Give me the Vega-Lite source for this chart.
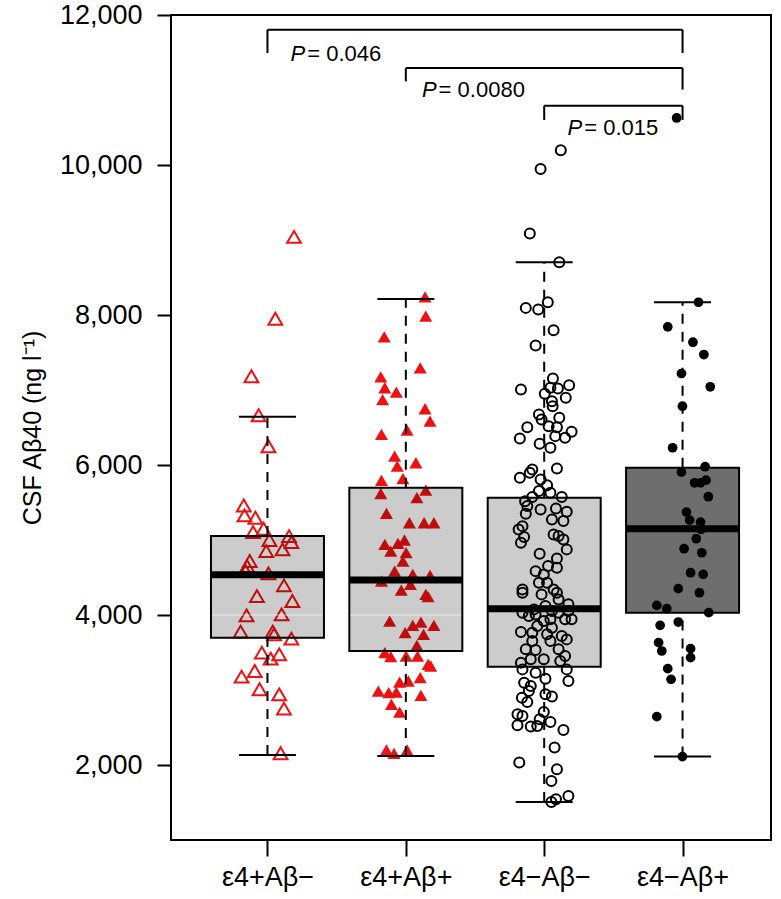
{
  "$schema": "https://vega.github.io/schema/vega-lite/v6.json",
  "width": 600,
  "height": 825,
  "autosize": {"type": "none"},
  "padding": {"left": 171, "top": 15, "right": 10, "bottom": 59},
  "background": "white",
  "config": {
    "view": {"stroke": "black", "strokeWidth": 2},
    "font": "Liberation Sans",
    "axis": {"grid": false, "domain": false, "tickColor": "black", "tickWidth": 2, "labelColor": "black", "titleColor": "black", "labelFont": "Liberation Sans", "titleFont": "Liberation Sans"},
    "axisY": {"labelFontSize": 27, "tickSize": 14, "labelPadding": 15, "titleFontSize": 25, "titleFontWeight": "normal", "titlePadding": 14},
    "axisX": {"labelFontSize": 27, "tickSize": 16, "labelPadding": 8}
  },
  "datasets": {
    "pts": [
      {"g":1,"x":1.192,"v":9042},{"g":1,"x":1.057,"v":7949},{"g":1,"x":0.884,"v":7184},{"g":1,"x":0.936,"v":6664},{"g":1,"x":1.007,"v":6251},
      {"g":1,"x":0.829,"v":5461},{"g":1,"x":0.834,"v":5328},{"g":1,"x":0.913,"v":5297},{"g":1,"x":0.972,"v":5150},{"g":1,"x":0.896,"v":5105},
      {"g":1,"x":1.014,"v":4999},{"g":1,"x":1.156,"v":5052},{"g":1,"x":1.173,"v":4972},{"g":1,"x":1.109,"v":4875},{"g":1,"x":0.991,"v":4852},
      {"g":1,"x":0.872,"v":4719},{"g":1,"x":0.853,"v":4652},{"g":1,"x":1.007,"v":4555},{"g":1,"x":0.842,"v":4585},{"g":1,"x":1.119,"v":4395},
      {"g":1,"x":0.924,"v":4252},{"g":1,"x":1.180,"v":4186},{"g":1,"x":0.849,"v":3995},{"g":1,"x":1.102,"v":4008},{"g":1,"x":0.806,"v":3778},
      {"g":1,"x":1.038,"v":3778},{"g":1,"x":1.048,"v":3742},{"g":1,"x":1.173,"v":3685},{"g":1,"x":0.959,"v":3498},{"g":1,"x":1.023,"v":3418},
      {"g":1,"x":1.085,"v":3475},{"g":1,"x":0.908,"v":3253},{"g":1,"x":0.813,"v":3178},{"g":1,"x":0.943,"v":3009},{"g":1,"x":1.085,"v":2942},
      {"g":1,"x":1.119,"v":2752},{"g":1,"x":1.095,"v":2156},
      {"g":2,"x":2.139,"v":8242},{"g":2,"x":2.144,"v":7984},{"g":2,"x":1.844,"v":7709},{"g":2,"x":2.104,"v":7296},{"g":2,"x":1.819,"v":7176},
      {"g":2,"x":1.848,"v":7030},{"g":2,"x":1.931,"v":6971},{"g":2,"x":1.832,"v":6873},{"g":2,"x":2.139,"v":6750},{"g":2,"x":2.175,"v":6584},
      {"g":2,"x":1.824,"v":6407},{"g":2,"x":2.009,"v":6464},{"g":2,"x":1.919,"v":6118},{"g":2,"x":1.938,"v":5985},{"g":2,"x":2.073,"v":6030},
      {"g":2,"x":1.979,"v":5817},{"g":2,"x":1.824,"v":5794},{"g":2,"x":2.144,"v":5665},{"g":2,"x":1.819,"v":5620},{"g":2,"x":2.080,"v":5564},
      {"g":2,"x":1.860,"v":5354},{"g":2,"x":2.026,"v":5230},{"g":2,"x":2.132,"v":5230},{"g":2,"x":2.203,"v":5230},{"g":2,"x":1.848,"v":4941},
      {"g":2,"x":1.943,"v":4955},{"g":2,"x":1.990,"v":5000},{"g":2,"x":1.891,"v":4852},{"g":2,"x":2.002,"v":4831},{"g":2,"x":1.979,"v":4719},
      {"g":2,"x":1.919,"v":4585},{"g":2,"x":1.824,"v":4452},{"g":2,"x":2.050,"v":4541},{"g":2,"x":2.175,"v":4528},{"g":2,"x":2.033,"v":4408},
      {"g":2,"x":1.967,"v":4332},{"g":2,"x":2.144,"v":4275},{"g":2,"x":2.161,"v":4244},{"g":2,"x":1.883,"v":3919},{"g":2,"x":1.995,"v":3764},
      {"g":2,"x":2.050,"v":3862},{"g":2,"x":2.109,"v":3906},{"g":2,"x":2.128,"v":3742},{"g":2,"x":2.203,"v":3862},{"g":2,"x":2.080,"v":3595},
      {"g":2,"x":1.848,"v":3498},{"g":2,"x":1.891,"v":3445},{"g":2,"x":2.002,"v":3453},{"g":2,"x":2.085,"v":3453},{"g":2,"x":2.161,"v":3342},
      {"g":2,"x":2.180,"v":3320},{"g":2,"x":1.955,"v":3106},{"g":2,"x":2.018,"v":3120},{"g":2,"x":2.104,"v":3165},{"g":2,"x":1.801,"v":2986},
      {"g":2,"x":1.876,"v":2965},{"g":2,"x":1.931,"v":2973},{"g":2,"x":2.109,"v":2929},{"g":2,"x":1.896,"v":2809},{"g":2,"x":1.955,"v":2706},
      {"g":2,"x":1.860,"v":2200},{"g":2,"x":1.915,"v":2156},{"g":2,"x":2.009,"v":2200},
      {"g":3,"x":3.120,"v":10196},{"g":3,"x":2.974,"v":9948},{"g":3,"x":2.896,"v":9086},{"g":3,"x":3.109,"v":8703},{"g":3,"x":2.867,"v":8095},
      {"g":3,"x":2.957,"v":8073},{"g":3,"x":3.026,"v":8170},{"g":3,"x":3.068,"v":7797},{"g":3,"x":2.938,"v":7593},{"g":3,"x":3.063,"v":7153},
      {"g":3,"x":2.832,"v":7007},{"g":3,"x":3.045,"v":7029},{"g":3,"x":3.099,"v":7020},{"g":3,"x":3.180,"v":7064},{"g":3,"x":3.004,"v":6949},
      {"g":3,"x":3.156,"v":6896},{"g":3,"x":3.056,"v":6851},{"g":3,"x":3.061,"v":6784},{"g":3,"x":2.962,"v":6673},{"g":3,"x":2.981,"v":6607},
      {"g":3,"x":3.109,"v":6629},{"g":3,"x":2.878,"v":6504},{"g":3,"x":3.032,"v":6517},{"g":3,"x":3.092,"v":6504},{"g":3,"x":3.198,"v":6443},
      {"g":3,"x":2.824,"v":6354},{"g":3,"x":3.080,"v":6385},{"g":3,"x":3.151,"v":6363},{"g":3,"x":2.967,"v":6283},{"g":3,"x":3.045,"v":6230},
      {"g":3,"x":3.092,"v":5954},{"g":3,"x":2.914,"v":5941},{"g":3,"x":2.824,"v":5830},{"g":3,"x":2.896,"v":5897},{"g":3,"x":2.974,"v":5807},
      {"g":3,"x":3.021,"v":5731},{"g":3,"x":2.962,"v":5652},{"g":3,"x":2.914,"v":5572},{"g":3,"x":3.045,"v":5630},{"g":3,"x":3.127,"v":5572},
      {"g":3,"x":2.862,"v":5518},{"g":3,"x":2.878,"v":5452},{"g":3,"x":2.974,"v":5408},{"g":3,"x":3.085,"v":5421},{"g":3,"x":3.163,"v":5377},
      {"g":3,"x":2.867,"v":5350},{"g":3,"x":3.056,"v":5274},{"g":3,"x":3.139,"v":5252},{"g":3,"x":2.843,"v":5185},{"g":3,"x":2.815,"v":5141},
      {"g":3,"x":3.068,"v":5074},{"g":3,"x":3.104,"v":5052},{"g":3,"x":2.855,"v":5039},{"g":3,"x":3.139,"v":5008},{"g":3,"x":2.832,"v":4964},
      {"g":3,"x":3.163,"v":4875},{"g":3,"x":2.967,"v":4817},{"g":3,"x":3.092,"v":4755},{"g":3,"x":3.028,"v":4652},{"g":3,"x":2.938,"v":4585},
      {"g":3,"x":2.997,"v":4541},{"g":3,"x":3.092,"v":4630},{"g":3,"x":2.962,"v":4430},{"g":3,"x":3.021,"v":4430},{"g":3,"x":2.843,"v":4341},
      {"g":3,"x":3.068,"v":4341},{"g":3,"x":2.843,"v":4297},{"g":3,"x":2.981,"v":4275},{"g":3,"x":3.092,"v":4297},{"g":3,"x":3.104,"v":4208},
      {"g":3,"x":3.175,"v":4142},{"g":3,"x":2.843,"v":4031},{"g":3,"x":2.926,"v":4075},{"g":3,"x":3.009,"v":4119},{"g":3,"x":3.056,"v":4053},
      {"g":3,"x":3.104,"v":4031},{"g":3,"x":3.175,"v":4053},{"g":3,"x":3.198,"v":3942},{"g":3,"x":2.938,"v":4008},{"g":3,"x":2.997,"v":3919},
      {"g":3,"x":2.889,"v":3986},{"g":3,"x":3.045,"v":3942},{"g":3,"x":3.151,"v":3942},{"g":3,"x":2.950,"v":3853},{"g":3,"x":3.056,"v":3831},
      {"g":3,"x":2.832,"v":3773},{"g":3,"x":2.914,"v":3764},{"g":3,"x":3.021,"v":3742},{"g":3,"x":3.127,"v":3719},{"g":3,"x":3.163,"v":3675},
      {"g":3,"x":2.914,"v":3653},{"g":3,"x":3.045,"v":3653},{"g":3,"x":2.867,"v":3542},{"g":3,"x":2.938,"v":3533},{"g":3,"x":3.104,"v":3542},
      {"g":3,"x":3.151,"v":3453},{"g":3,"x":2.997,"v":3409},{"g":3,"x":2.832,"v":3365},{"g":3,"x":2.903,"v":3409},{"g":3,"x":3.116,"v":3386},
      {"g":3,"x":2.843,"v":3275},{"g":3,"x":2.938,"v":3231},{"g":3,"x":3.163,"v":3275},{"g":3,"x":3.009,"v":3151},{"g":3,"x":2.855,"v":3098},
      {"g":3,"x":2.903,"v":3053},{"g":3,"x":3.175,"v":3120},{"g":3,"x":2.889,"v":2986},{"g":3,"x":3.009,"v":2942},{"g":3,"x":3.056,"v":2912},
      {"g":3,"x":2.839,"v":2898},{"g":3,"x":2.878,"v":2840},{"g":3,"x":2.997,"v":2706},{"g":3,"x":2.807,"v":2676},{"g":3,"x":2.843,"v":2653},
      {"g":3,"x":2.807,"v":2529},{"g":3,"x":2.903,"v":2512},{"g":3,"x":2.950,"v":2520},{"g":3,"x":3.045,"v":2573},{"g":3,"x":2.967,"v":2609},
      {"g":3,"x":3.139,"v":2467},{"g":3,"x":3.075,"v":2232},{"g":3,"x":2.820,"v":2032},{"g":3,"x":3.092,"v":1943},{"g":3,"x":3.052,"v":1787},
      {"g":3,"x":3.175,"v":1587},{"g":3,"x":3.052,"v":1507},{"g":3,"x":3.085,"v":1543},
      {"g":4,"x":3.957,"v":10627},{"g":4,"x":4.115,"v":8170},{"g":4,"x":3.893,"v":7842},{"g":4,"x":4.075,"v":7637},{"g":4,"x":4.154,"v":7473},
      {"g":4,"x":3.992,"v":7220},{"g":4,"x":4.200,"v":7043},{"g":4,"x":3.999,"v":6784},{"g":4,"x":3.928,"v":6230},{"g":4,"x":4.163,"v":5977},
      {"g":4,"x":3.992,"v":5905},{"g":4,"x":4.087,"v":5763},{"g":4,"x":4.170,"v":5798},{"g":4,"x":4.130,"v":5763},{"g":4,"x":4.186,"v":5577},
      {"g":4,"x":4.028,"v":5372},{"g":4,"x":4.051,"v":5265},{"g":4,"x":4.130,"v":5238},{"g":4,"x":4.134,"v":5141},{"g":4,"x":4.099,"v":5017},
      {"g":4,"x":4.011,"v":4884},{"g":4,"x":4.139,"v":4830},{"g":4,"x":4.058,"v":4564},{"g":4,"x":4.149,"v":4541},{"g":4,"x":3.969,"v":4351},
      {"g":4,"x":4.122,"v":4297},{"g":4,"x":3.814,"v":4128},{"g":4,"x":3.886,"v":4084},{"g":4,"x":4.189,"v":4031},{"g":4,"x":3.838,"v":3862},
      {"g":4,"x":3.969,"v":3906},{"g":4,"x":3.827,"v":3631},{"g":4,"x":3.850,"v":3520},{"g":4,"x":4.058,"v":3551},{"g":4,"x":4.058,"v":3431},
      {"g":4,"x":3.893,"v":3285},{"g":4,"x":3.917,"v":3142},{"g":4,"x":3.814,"v":2645},{"g":4,"x":3.999,"v":2112}
    ],
    "boxes": [
      {"g":1,"lo":2134,"q1":3698,"med":4537,"q3":5052,"hi":6643},
      {"g":2,"lo":2120,"q1":3520,"med":4466,"q3":5697,"hi":8215},
      {"g":3,"lo":1507,"q1":3311,"med":4084,"q3":5564,"hi":8703},
      {"g":4,"lo":2112,"q1":4031,"med":5150,"q3":5963,"hi":8170}
    ],
    "brackets": [
      {"x1":1,"x2":4,"y1":11804,"y2":11804},
      {"x1":1,"x2":1,"y1":11804,"y2":11494},
      {"x1":4,"x2":4,"y1":11804,"y2":11494},
      {"x1":2,"x2":4,"y1":11294,"y2":11294},
      {"x1":2,"x2":2,"y1":11294,"y2":11115},
      {"x1":4,"x2":4,"y1":11294,"y2":11005},
      {"x1":3,"x2":4,"y1":10791,"y2":10791},
      {"x1":3,"x2":3,"y1":10791,"y2":10601},
      {"x1":4,"x2":4,"y1":10791,"y2":10601}
    ],
    "labels": [
      {"x":1.288,"y":11480,"p":"P","t":"= 0.046"},
      {"x":2.237,"y":10995,"p":"P","t":"= 0.0080"},
      {"x":3.289,"y":10494,"p":"P","t":"= 0.015"}
    ]
  },
  "encoding": {
    "x": {"type": "quantitative", "scale": {"domain": [0.339, 4.603], "nice": false, "zero": false},
          "axis": {"values": [1,2,3,4], "labelExpr": "['','ε4+Aβ−','ε4+Aβ+','ε4−Aβ−','ε4−Aβ+'][datum.value]", "title": null, "labelFlush": false}},
    "y": {"type": "quantitative", "scale": {"domain": [1000, 12000], "nice": false, "zero": false},
          "axis": {"values": [2000,4000,6000,8000,10000,12000], "labelExpr": "format(datum.value, ',')", "title": "CSF Aβ40 (ng l⁻¹)"}}
  },
  "layer": [
    {
      "data": {"name": "pts"},
      "transform": [{"filter": "datum.g == 1"}],
      "mark": {"type": "point", "shape": "triangle-up", "filled": false, "stroke": "#ee1111", "strokeWidth": 2, "size": 190, "opacity": 1},
      "encoding": {"x": {"field": "x"}, "y": {"field": "v"}}
    },
    {
      "data": {"name": "pts"},
      "transform": [{"filter": "datum.g == 2"}],
      "mark": {"type": "point", "shape": "triangle-up", "filled": true, "fill": "#ee1111", "size": 170, "opacity": 1},
      "encoding": {"x": {"field": "x"}, "y": {"field": "v"}}
    },
    {
      "data": {"name": "pts"},
      "transform": [{"filter": "datum.g == 3"}],
      "mark": {"type": "point", "shape": "circle", "filled": false, "stroke": "black", "strokeWidth": 2, "size": 100, "opacity": 1},
      "encoding": {"x": {"field": "x"}, "y": {"field": "v"}}
    },
    {
      "data": {"name": "pts"},
      "transform": [{"filter": "datum.g == 4"}],
      "mark": {"type": "point", "shape": "circle", "filled": true, "fill": "black", "size": 95, "opacity": 1},
      "encoding": {"x": {"field": "x"}, "y": {"field": "v"}}
    },
    {
      "data": {"name": "boxes"},
      "mark": {"type": "rule", "stroke": "black", "strokeWidth": 2, "strokeDash": [10, 8]},
      "encoding": {"x": {"field": "g"}, "y": {"field": "q3"}, "y2": {"field": "hi"}}
    },
    {
      "data": {"name": "boxes"},
      "mark": {"type": "rule", "stroke": "black", "strokeWidth": 2, "strokeDash": [10, 8]},
      "encoding": {"x": {"field": "g"}, "y": {"field": "lo"}, "y2": {"field": "q1"}}
    },
    {
      "data": {"name": "boxes"},
      "mark": {"type": "tick", "orient": "horizontal", "size": 57, "thickness": 2, "color": "black", "opacity": 1},
      "encoding": {"x": {"field": "g"}, "y": {"field": "hi"}}
    },
    {
      "data": {"name": "boxes"},
      "mark": {"type": "tick", "orient": "horizontal", "size": 57, "thickness": 2, "color": "black", "opacity": 1},
      "encoding": {"x": {"field": "g"}, "y": {"field": "lo"}}
    },
    {
      "data": {"name": "boxes"},
      "transform": [{"filter": "datum.g < 4"}],
      "mark": {"type": "bar", "size": 113, "fill": "black", "fillOpacity": 0.2, "stroke": "black", "strokeWidth": 2},
      "encoding": {"x": {"field": "g"}, "y": {"field": "q1"}, "y2": {"field": "q3"}}
    },
    {
      "data": {"name": "boxes"},
      "transform": [{"filter": "datum.g == 4"}],
      "mark": {"type": "bar", "size": 113, "fill": "black", "fillOpacity": 0.57, "stroke": "black", "strokeWidth": 2},
      "encoding": {"x": {"field": "g"}, "y": {"field": "q1"}, "y2": {"field": "q3"}}
    },
    {
      "data": {"name": "boxes"},
      "transform": [{"filter": "datum.g < 3"}],
      "mark": {"type": "tick", "orient": "horizontal", "size": 111, "thickness": 1, "color": "white", "opacity": 0.6},
      "encoding": {"x": {"field": "g"}, "y": {"datum": 4000}}
    },
    {
      "data": {"name": "boxes"},
      "mark": {"type": "tick", "orient": "horizontal", "size": 113, "thickness": 7, "color": "black", "opacity": 1},
      "encoding": {"x": {"field": "g"}, "y": {"field": "med"}}
    },
    {
      "data": {"name": "brackets"},
      "mark": {"type": "rule", "stroke": "black", "strokeWidth": 2},
      "encoding": {"x": {"field": "x1"}, "x2": {"field": "x2"}, "y": {"field": "y1"}, "y2": {"field": "y2"}}
    },
    {
      "data": {"name": "labels"},
      "mark": {"type": "text", "align": "right", "baseline": "middle", "fontSize": 22, "fontStyle": "italic", "font": "Liberation Sans", "color": "black", "dx": -2},
      "encoding": {"x": {"field": "x"}, "y": {"field": "y"}, "text": {"field": "p"}}
    },
    {
      "data": {"name": "labels"},
      "mark": {"type": "text", "align": "left", "baseline": "middle", "fontSize": 22, "font": "Liberation Sans", "color": "black"},
      "encoding": {"x": {"field": "x"}, "y": {"field": "y"}, "text": {"field": "t"}}
    }
  ]
}
